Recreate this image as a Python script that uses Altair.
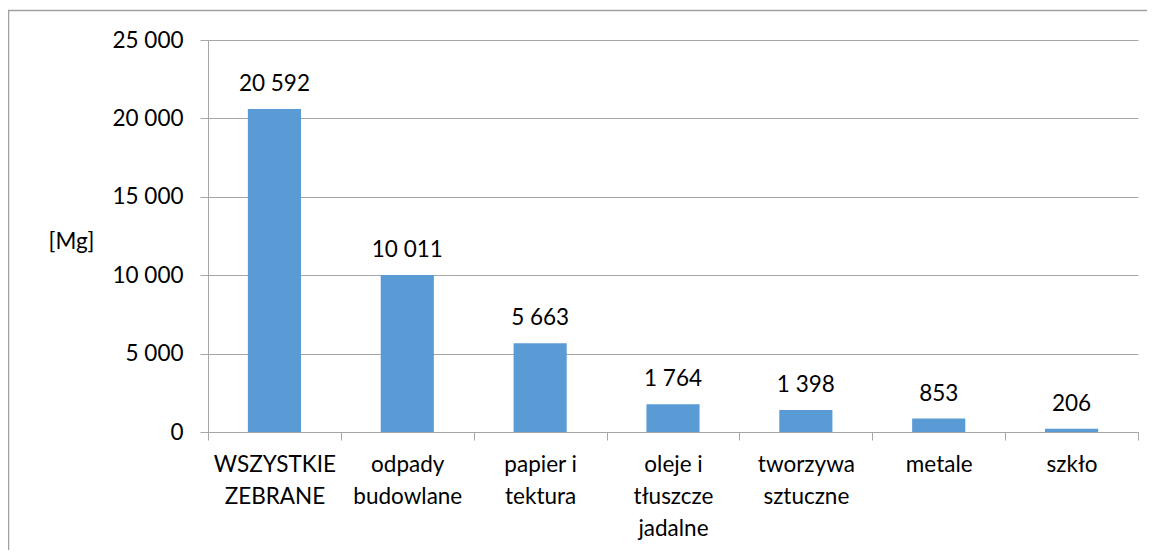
import altair as alt
import pandas as pd

categories = ["WSZYSTKIE|ZEBRANE", "odpady|budowlane", "papier i|tektura",
              "oleje i|tłuszcze|jadalne", "tworzywa|sztuczne", "metale", "szkło"]
values = [20592, 10011, 5663, 1764, 1398, 853, 206]
y_ticks = [0, 5000, 10000, 15000, 20000, 25000]

df = pd.DataFrame({
    "cat": categories,
    "val": values,
    "lbl": [f"{v:,}".replace(",", " ") for v in values],
})

FONT = "Lato"
FS = 22.5
GRID = "#a6a6a6"

x_enc = alt.X("cat:N", sort=categories, title=None,
              scale=alt.Scale(paddingInner=0, paddingOuter=0),
              axis=alt.Axis(labelExpr="split(datum.label, '|')", labelAngle=0,
                            labelFontSize=FS, labelFont=FONT, labelColor="black",
                            labelLineHeight=32, labelPadding=13,
                            tickBand="extent", tickSize=8, tickColor=GRID,
                            domainColor=GRID, grid=False))
y_enc = alt.Y("val:Q", title="[Mg]",
              scale=alt.Scale(domain=[0, 25000], nice=False),
              axis=alt.Axis(values=y_ticks,
                            labelExpr="replace(format(datum.value, ','), ',', ' ')",
                            labelFontSize=FS, labelFont=FONT, labelColor="black",
                            labelPadding=17, tickSize=8, tickColor=GRID,
                            domainColor=GRID, gridColor=GRID,
                            titleAngle=0, titleX=-137, titleY=201,
                            titleAlign="center", titleBaseline="middle",
                            titleFontSize=FS, titleFont=FONT,
                            titleFontWeight="normal", titleColor="black"))

base = alt.Chart(df)
bars = base.mark_bar(color="#5b9bd5", width=alt.RelativeBandSize(0.4)).encode(x=x_enc, y=y_enc)
text = base.mark_text(font=FONT, fontSize=FS, color="black",
                      baseline="alphabetic", dy=-18).encode(
    x=alt.X("cat:N", sort=categories), y="val:Q", text="lbl:N")

border = alt.Chart(pd.DataFrame({"a": [0]})).mark_rect(
    fill=None, stroke="#a0a0a0", strokeWidth=1.5, clip=False).encode(
    x=alt.value(-199.5), x2=alt.value(1300), y=alt.value(-29.5), y2=alt.value(700))

chart = alt.layer(border, bars, text).properties(
    width=930, height=392,
    autosize=alt.AutoSizeParams(type="none"),
    padding={"left": 200, "top": 32, "right": 9, "bottom": 118},
).configure_view(stroke=None)

chart.save("out.html", embed_options={"renderer": "svg", "actions": False})
